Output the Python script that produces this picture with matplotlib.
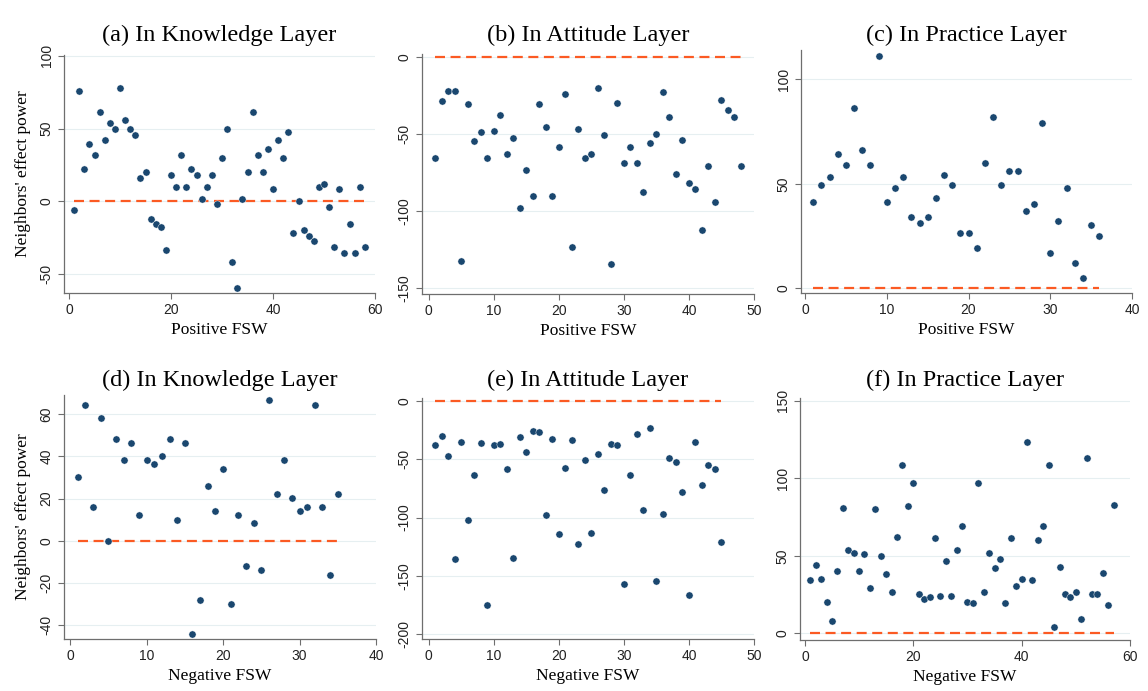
import numpy as np
import matplotlib
matplotlib.use("Agg")
import matplotlib.pyplot as plt

plt.rcParams['axes.unicode_minus'] = False

# Neighbors' effect power per FSW
a_vals = [-5.7, 75.6, 22.1, 39.7, 31.7, 61.6, 42, 53.7, 49.8, 77.6, 55.9, 49.8, 45.7, 15.8,
          19.9, -12.1, -15.8, -18, -33.6, 17.8, 9.8, 31.7, 9.8, 22.1, 17.8, 1.8, 9.8, 17.8,
          -2, 29.7, 49.8, -41.6, -59.6, 1.8, 19.9, 61.6, 31.7, 19.9, 35.8, 8.2, 42, 29.7,
          47.7, -21.7, 0, -19.6, -24, -27.6, 9.8, 12.1, -4.1, -31.7, 8.2, -35.4, -15.8,
          -35.4, 9.8, -31.7]
b_vals = [-65.7, -28.8, -22.1, -22.1, -132.6, -30.7, -54.9, -48.9, -65.7, -47.9, -38, -62.9,
          -53, -97.9, -73.8, -90.6, -30.7, -45.9, -90.6, -58.8, -24.2, -123.4, -47, -65.7,
          -62.9, -20.2, -51.1, -134.5, -30, -68.9, -58.8, -68.9, -87.8, -55.8, -50, -23,
          -39.1, -76, -53.9, -81.8, -85.8, -112.7, -70.8, -94.4, -28.1, -34.8, -39.1, -70.8]
c_vals = [41.3, 49.3, 53.1, 64.3, 59.2, 86.3, 66.2, 59.2, 111.3, 41.3, 48, 53.1, 34.3, 31.3,
          34.3, 43.1, 54.2, 49.3, 26.3, 26.3, 19.1, 60.1, 82.1, 49.3, 56.3, 56.3, 37.2, 40.2,
          79.3, 17.1, 32.1, 48, 12.1, 5.1, 30.1, 25]
d_vals = [30.1, 64.3, 16.2, 58.1, 0, 48.3, 38.3, 46.1, 12, 38.3, 36.3, 40.1, 48.3, 10, 46.1,
          -44, -27.9, 26.1, 14.1, 34.2, -29.9, 12, -11.9, 8.2, -13.9, 66.4, 22.2, 38.3, 20.1,
          14.1, 16.2, 64.3, 16.2, -16, 22.2]
e_vals = [-38.1, -30.1, -47, -135.8, -35, -102, -63.9, -36.1, -174.8, -38.1, -37.2, -58.2,
          -134.7, -31.2, -43.8, -26.1, -26.9, -97.7, -32.4, -114, -57.3, -33.5, -122.6, -50.4,
          -112.9, -45.8, -76.2, -37, -38.1, -157, -63.9, -28.1, -94, -23.5, -154.7, -96.6,
          -49, -52.7, -78.2, -166.5, -35, -71.9, -55, -58.2, -120.9]
f_vals = [34.2, 44.1, 35, 20.4, 8, 40.2, 81, 53.5, 52, 40.2, 51.1, 29.2, 80, 50.1, 38.3, 26.4,
          62.1, 108.7, 82.1, 96.9, 25.1, 22.4, 23.2, 61.3, 24.3, 46.9, 24.3, 53.5, 69.2, 20.4,
          19.3, 96.9, 26.4, 52, 42.1, 48.1, 19.3, 61.3, 30.3, 35, 123.1, 34.2, 60.2, 69.2,
          108.7, 4.3, 43, 25.1, 23.2, 26.4, 9.5, 112.8, 25.1, 25.1, 39.1, 18.5, 83]

titles = ["(a) In Knowledge Layer", "(b) In Attitude Layer", "(c) In Practice Layer",
          "(d) In Knowledge Layer", "(e) In Attitude Layer", "(f) In Practice Layer"]
xlabels = ["Positive FSW"] * 3 + ["Negative FSW"] * 3
ylabel = "Neighbors' effect power"

W, H = 1148, 691
fig = plt.figure(figsize=(W / 100, H / 100), dpi=100)

# panel boxes in pixels: left, right, top, bottom
boxes = [(64, 375, 55, 293), (422, 754, 54, 294), (801, 1132, 50, 293),
         (64, 376, 395, 639), (422, 754, 398, 639), (800, 1130, 398, 640)]
xlims = [(-1, 60), (-1, 50), (-0.5, 40), (-0.8, 40), (-1, 50), (-0.9, 60)]
ylims = [(-63, 100.5), (-154, 1.8), (-2.2, 114), (-46.5, 69), (-204, 2.3), (-4.3, 151.7)]
xticks = [np.arange(0, 61, 20), np.arange(0, 51, 10), np.arange(0, 41, 10),
          np.arange(0, 41, 10), np.arange(0, 51, 10), np.arange(0, 61, 20)]
yticks = [[-50, 0, 50, 100], [-150, -100, -50, 0], [0, 50, 100],
          [-40, -20, 0, 20, 40, 60], [-200, -150, -100, -50, 0], [0, 50, 100, 150]]
data = [a_vals, b_vals, c_vals, d_vals, e_vals, f_vals]

serif = "Liberation Serif"
sans = "Liberation Sans"
dot_col = "#1a476f"
line_col = "#fb5a23"
axis_col = "#6e6e6e"

for i in range(6):
    l, r, t, b = boxes[i]
    ax = fig.add_axes([l / W, 1 - b / H, (r - l) / W, (b - t) / H])
    y = np.array(data[i])
    x = np.arange(1, len(y) + 1)
    ax.plot([x[0], x[-1]], [0, 0], color=line_col, lw=1.6, ls=(0, (4.5, 2.5)), zorder=2)
    ax.plot(x, y, 'o', color=dot_col, ms=5.2, mec="white", mew=0.3, zorder=3)
    ax.set_xlim(xlims[i])
    ax.set_ylim(ylims[i])
    ax.set_xticks(xticks[i])
    ax.set_yticks(yticks[i])
    ax.grid(axis='y', color="#e6eff1", lw=0.8)
    ax.set_axisbelow(True)
    for s in ["top", "right"]:
        ax.spines[s].set_visible(False)
    for s in ["left", "bottom"]:
        ax.spines[s].set_color(axis_col)
        ax.spines[s].set_linewidth(0.9)
    ax.tick_params(colors=axis_col, length=4, width=0.8, labelsize=10, labelcolor="#222222")
    for lab in ax.get_yticklabels():
        lab.set_rotation(90)
        lab.set_va("center")
        lab.set_fontfamily(sans)
    for lab in ax.get_xticklabels():
        lab.set_fontfamily(sans)
    ax.set_xlabel(xlabels[i], fontfamily=serif, fontsize=12.5, labelpad=3)
    if i in (0, 3):
        ax.set_ylabel(ylabel, fontfamily=serif, fontsize=12.5, labelpad=6)
    ty = 35 if i < 3 else 380
    fig.text((l + r) / 2 / W, 1 - ty / H, titles[i], fontfamily=serif, fontsize=17.5,
             ha="center", va="center")

fig.savefig("out.png", dpi=100)
